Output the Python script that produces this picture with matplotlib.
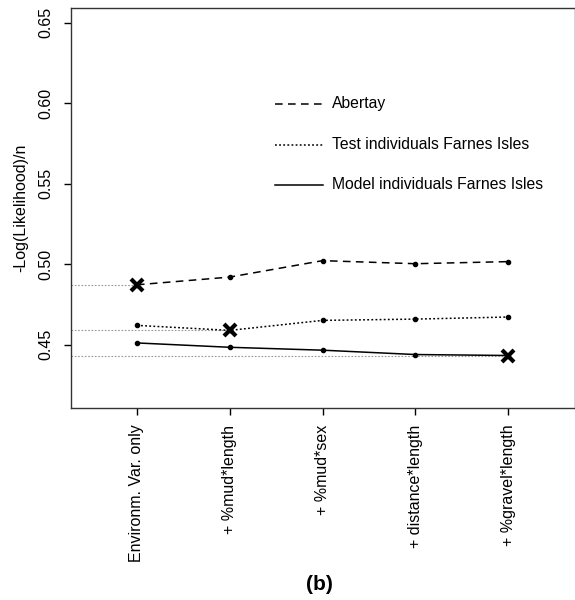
import matplotlib
matplotlib.use("Agg")
import matplotlib.pyplot as plt

plt.rcParams['font.family'] = ['Liberation Sans', 'DejaVu Sans']

# model steps (x axis)
steps = ["Environm. Var. only", "+ %mud*length", "+ %mud*sex",
         "+ distance*length", "+ %gravel*length"]
xpos = [1, 2, 3, 4, 5]

# -Log(Likelihood)/n per series
abertay = [0.4873, 0.4921, 0.5023, 0.5004, 0.5017]
test_fi = [0.4621, 0.4590, 0.4652, 0.4660, 0.4673]
model_fi = [0.4512, 0.4485, 0.4467, 0.4440, 0.4434]

series = [
    ("Abertay", abertay, (0, (5, 3.5))),
    ("Test individuals Farnes Isles", test_fi, (0, (1.2, 1.5))),
    ("Model individuals Farnes Isles", model_fi, "-"),
]

FS = 11.5

fig = plt.figure(figsize=(5.75, 6), dpi=100)
ax = fig.add_axes([0.1235, 0.32, 0.8765, 0.6667])
ax.set_xlim(0.29, 5.72)
ax.set_ylim(0.4108, 0.6592)

for name, vals, ls in series:
    ax.plot(xpos, vals, color="black", linestyle=ls, linewidth=1.1,
            marker="o", markersize=3, zorder=3)
    # mark the minimum with a cross, grey reference line to the axis
    i = vals.index(min(vals))
    ax.plot([0.29, xpos[i]], [vals[i], vals[i]], color="#999999",
            linestyle=(0, (1.5, 1.5)), linewidth=0.8, zorder=2)
    ax.plot(xpos[i], vals[i], marker="x", color="black", markersize=8,
            markeredgewidth=3, zorder=4)

# legend drawn inside the axes, no box
leg_y = [0.76, 0.6575, 0.5575]
for (name, vals, ls), y in zip(series, leg_y):
    ax.plot([0.405, 0.50], [y, y], color="black", linestyle=ls, linewidth=1.1,
            transform=ax.transAxes)
    ax.text(0.518, y, name, transform=ax.transAxes, va="center", ha="left",
            fontsize=FS - 0.2)

ax.set_yticks([0.45, 0.50, 0.55, 0.60, 0.65])
ax.set_yticklabels(["0.45", "0.50", "0.55", "0.60", "0.65"], rotation=90,
                   va="center")
ax.set_xticks(xpos)
ax.set_xticklabels(steps, rotation=90, va="top")
ax.tick_params(axis="both", direction="out", length=5, width=1,
               labelsize=FS)
ax.tick_params(axis="y", pad=8)
ax.tick_params(axis="x", pad=7)

for sp in ax.spines.values():
    sp.set_linewidth(1.0)
    sp.set_color("#333333")

ax.set_ylabel("-Log(Likelihood)/n", fontsize=FS)
ax.yaxis.set_label_coords(-0.085, 0.5)

fig.text(0.556, 0.025, "(b)", ha="center", va="center", fontsize=15,
         fontweight="bold")

fig.savefig("out.png", dpi=100)
